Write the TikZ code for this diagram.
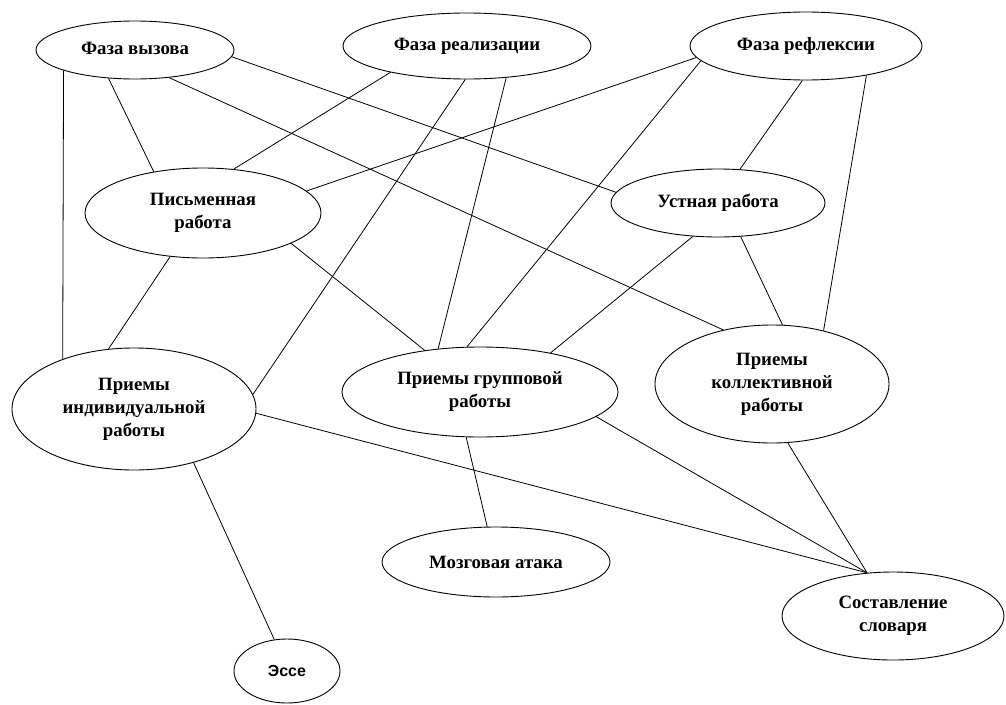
\documentclass[tikz,border=0pt]{standalone}
\usepackage{fontspec}
\setmainfont{Liberation Serif}
\setsansfont{Liberation Sans}
\usetikzlibrary{shapes.geometric}
\tikzset{
  oval/.style={draw, ellipse, inner sep=0pt, line width=0.9pt, align=center,
    font=\bfseries\fontsize{18.8}{23}\selectfont},
  link/.style={line width=0.8pt}
}
\begin{document}
\begin{tikzpicture}[x=1pt,y=-1pt]
\useasboundingbox[fill=white] (0,0) rectangle (1006,704);
\node[oval, minimum width=198pt, minimum height=58pt] (A) at (135,50) {\raisebox{3pt}{Фаза вызова}};
\node[oval, minimum width=248pt, minimum height=66pt] (B) at (467,46) {\raisebox{2pt}{Фаза реализации}};
\node[oval, minimum width=232pt, minimum height=68pt] (C) at (806,46) {\raisebox{2pt}{Фаза рефлексии}};
\node[oval, minimum width=236pt, minimum height=90pt] (D) at (203,213) {Письменная\\работа};
\node[oval, minimum width=214pt, minimum height=68pt] (E) at (718,203) {\raisebox{2pt}{Устная работа}};
\node[oval, minimum width=244pt, minimum height=122pt] (F) at (134,409) {Приемы\\индивидуальной\\работы};
\node[oval, minimum width=276pt, minimum height=90pt] (G) at (480,392) {Приемы групповой\\работы};
\node[oval, minimum width=234pt, minimum height=118pt] (H) at (772,384) {Приемы\\коллективной\\работы};
\node[oval, minimum width=228pt, minimum height=70pt] (I) at (496,562) {Мозговая атака};
\node[oval, minimum width=222pt, minimum height=88pt] (J) at (893,616) {Составление\\словаря};
\node[oval, minimum width=106pt, minimum height=64pt, font=\sffamily\bfseries\fontsize{16}{20}\selectfont] (K) at (287,671) {Эссе};

\draw[link] (A.-133) -- (D.140);
\draw[link] (A.-164.5) -- (F.145.1);
\draw[link] (A.-4) -- (E.174);
\draw[link] (A.-39.6) -- (H.132.5);
\draw[link] (B.-161.3) -- (D.55.2);
\draw[link] (B.-93.4) -- (F.7.5);
\draw[link] (B.-39.5) -- (G.134.4);
\draw[link] (C.-174.2) -- (D.12.7);
\draw[link] (C.-172.7) -- (G.106.1);
\draw[link] (C.-96.7) -- (E.57.8);
\draw[link] (C.-26.4) -- (H.46.2);
\draw[link] (D.-127.4) -- (F.113.6);
\draw[link] (D.-19.3) -- (G.143.1);
\draw[link] (E.-127.4) -- (G.29);
\draw[link] (E.-56.5) -- (H.80.3);
\draw[link] (F.-2.8) -- (J.121.3);
\draw[link] (F.-42.8) -- (K.112.7);
\draw[link] (G.-107.4) -- (I.104.5);
\draw[link] (G.-12.9) -- (J.121.3);
\draw[link] (H.-75.6) -- (J.121.3);
\end{tikzpicture}
\end{document}
